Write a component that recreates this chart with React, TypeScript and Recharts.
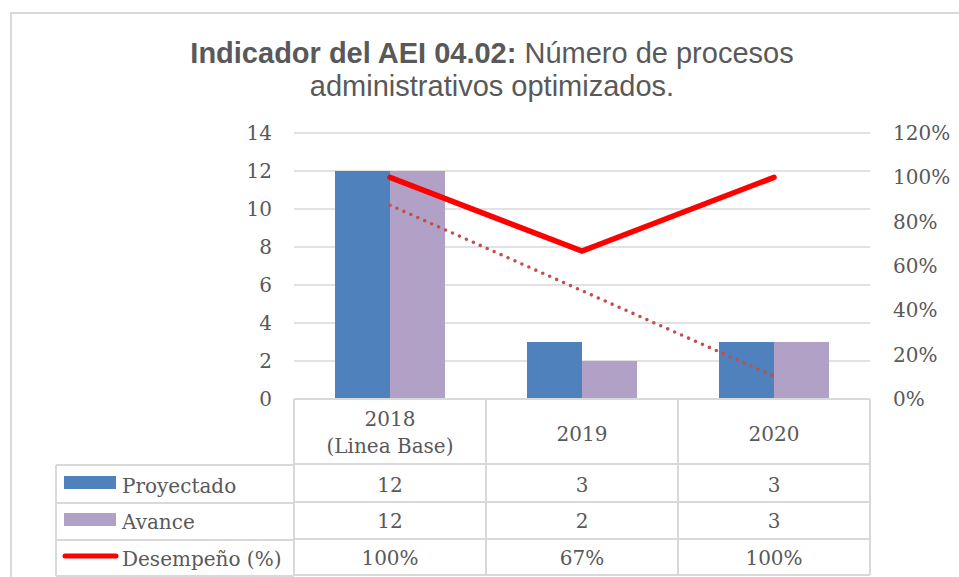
import { ComposedChart, Bar, Line, XAxis, YAxis, CartesianGrid } from "recharts"

const categories = ["2018 (Linea Base)", "2019", "2020"]
const categoryLines = [["2018", "(Linea Base)"], ["2019"], ["2020"]]
const proyectado = [12, 3, 3]
const avance = [12, 2, 3]
const desempeno = [1, 0.667, 1]
const desempenoLabels = ["100%", "67%", "100%"]
// linear trend of "Avance" as drawn (dotted)
const tendencia = [10.2, 5.7, 1.2]
const leftTicks = [0, 2, 4, 6, 8, 10, 12, 14]
const rightTicks = [0, 0.2, 0.4, 0.6, 0.8, 1.0, 1.2]

const seriesNames = ["Proyectado", "Avance", "Desempeño (%)"]

const data = categories.map((cat, i) => ({
  cat,
  proyectado: proyectado[i],
  avance: avance[i],
  desempeno: desempeno[i],
  tendencia: tendencia[i],
}))

const W = 959
const H = 577
const plotLeft = 294
const plotRight = 870
const plotTop = 133
const plotBottom = 399
const gridColor = "#D9D9D9"
const textColor = "#595959"
const serif = "DejaVu Serif"
const colHalf = (plotRight - plotLeft) / categories.length / 2
// row boundaries below the axis, relative to its baseline
const rowEdges = [0, 65, 103, 140, 176]

function TableColumn(props: any) {
  const { x, y, payload } = props
  const i = payload.index ?? categories.indexOf(payload.value)
  const left = x - colHalf
  const right = x + colHalf
  const lines = categoryLines[i]
  const values = [String(proyectado[i]), String(avance[i]), desempenoLabels[i]]
  const rowBase = [93, 129, 166]
  return (
    <g>
      {rowEdges.map((r) => (
        <line key={r} x1={left} x2={right} y1={y + r} y2={y + r} stroke={gridColor} strokeWidth={2} />
      ))}
      <line x1={left} x2={left} y1={y} y2={y + 176} stroke={gridColor} strokeWidth={2} />
      <line x1={right} x2={right} y1={y} y2={y + 176} stroke={gridColor} strokeWidth={2} />
      {lines.length === 2 ? (
        <>
          <text x={x} y={y + 27} textAnchor="middle" fontFamily={serif} fontSize={20} fill={textColor}>{lines[0]}</text>
          <text x={x} y={y + 54} textAnchor="middle" fontFamily={serif} fontSize={20} fill={textColor}>{lines[1]}</text>
        </>
      ) : (
        <text x={x} y={y + 42} textAnchor="middle" fontFamily={serif} fontSize={20} fill={textColor}>{lines[0]}</text>
      )}
      {values.map((v, k) => (
        <text key={k} x={x} y={y + rowBase[k]} textAnchor="middle" fontFamily={serif} fontSize={20} fill={textColor}>{v}</text>
      ))}
    </g>
  )
}

function LegendColumn() {
  const x0 = 56
  const top = plotBottom + 1
  const rowBase = [93, 129, 166]
  return (
    <g>
      {rowEdges.slice(1).map((r) => (
        <line key={r} x1={x0} x2={plotLeft} y1={top + r} y2={top + r} stroke={gridColor} strokeWidth={2} />
      ))}
      <line x1={x0} x2={x0} y1={top + 65} y2={top + 176} stroke={gridColor} strokeWidth={2} />
      <rect x={64} y={top + 76} width={52} height={13} fill="#4F81BD" />
      <rect x={64} y={top + 113} width={52} height={13} fill="#B2A1C7" />
      <line x1={65} x2={116} y1={top + 156} y2={top + 156} stroke="#FF0000" strokeWidth={5} strokeLinecap="round" />
      {seriesNames.map((n, k) => (
        <text key={n} x={122} y={top + rowBase[k]} fontFamily={serif} fontSize={20} fill={textColor}>{n}</text>
      ))}
    </g>
  )
}

export default function App() {
  return (
    <div style={{ position: "absolute", left: 0, top: 0, width: W, height: H, background: "#fff" }}>
      <ComposedChart
        width={W}
        height={H}
        data={data}
        margin={{ top: plotTop, right: W - plotRight - 80, bottom: H - plotBottom - 1, left: plotLeft - 60 }}
        barGap={0}
      >
        <CartesianGrid yAxisId="left" vertical={false} stroke={gridColor} strokeWidth={1.5} />
        <XAxis
          dataKey="cat"
          height={1}
          axisLine={false}
          tickLine={false}
          tickSize={0}
          tickMargin={0}
          interval={0}
          tick={(p: any) => <TableColumn {...p} />}
        />
        <YAxis
          yAxisId="left"
          width={60}
          domain={[0, 14]}
          ticks={leftTicks}
          axisLine={false}
          tickLine={false}
          tickSize={0}
          tickMargin={22}
          tick={{ fontFamily: serif, fontSize: 20, fill: textColor }}
        />
        <YAxis
          yAxisId="right"
          orientation="right"
          width={80}
          domain={[0, 1.2]}
          ticks={rightTicks}
          axisLine={false}
          tickLine={false}
          tickSize={0}
          tickMargin={23}
          tickFormatter={(v: number) => `${Math.round(v * 100)}%`}
          tick={{ fontFamily: serif, fontSize: 20, fill: textColor }}
        />
        <Bar yAxisId="left" dataKey="proyectado" fill="#4F81BD" barSize={55} isAnimationActive={false} />
        <Bar yAxisId="left" dataKey="avance" fill="#B2A1C7" barSize={55} isAnimationActive={false} />
        <Line
          yAxisId="right"
          dataKey="desempeno"
          stroke="#FF0000"
          strokeWidth={5.5}
          strokeLinecap="round"
          dot={false}
          activeDot={false}
          type="linear"
          isAnimationActive={false}
        />
        <Line
          yAxisId="left"
          dataKey="tendencia"
          stroke="#C0504D"
          strokeWidth={3.6}
          strokeDasharray="0 7.6"
          strokeLinecap="round"
          dot={false}
          activeDot={false}
          type="linear"
          isAnimationActive={false}
        />
      </ComposedChart>
      <svg width={W} height={H} style={{ position: "absolute", left: 0, top: 0, pointerEvents: "none" }}>
        <path d={`M11 ${H} L11 13 L${W} 13`} fill="none" stroke={gridColor} strokeWidth={2} />
        <text x={492} y={63} textAnchor="middle" fontFamily="Liberation Sans, Arial" fontSize={29} fill={textColor}>
          <tspan fontWeight="bold">Indicador del AEI 04.02:</tspan>
          <tspan>{" Número de procesos"}</tspan>
        </text>
        <text x={492} y={96} textAnchor="middle" fontFamily="Liberation Sans, Arial" fontSize={29} fill={textColor}>
          administrativos optimizados.
        </text>
        <LegendColumn />
      </svg>
    </div>
  )
}
